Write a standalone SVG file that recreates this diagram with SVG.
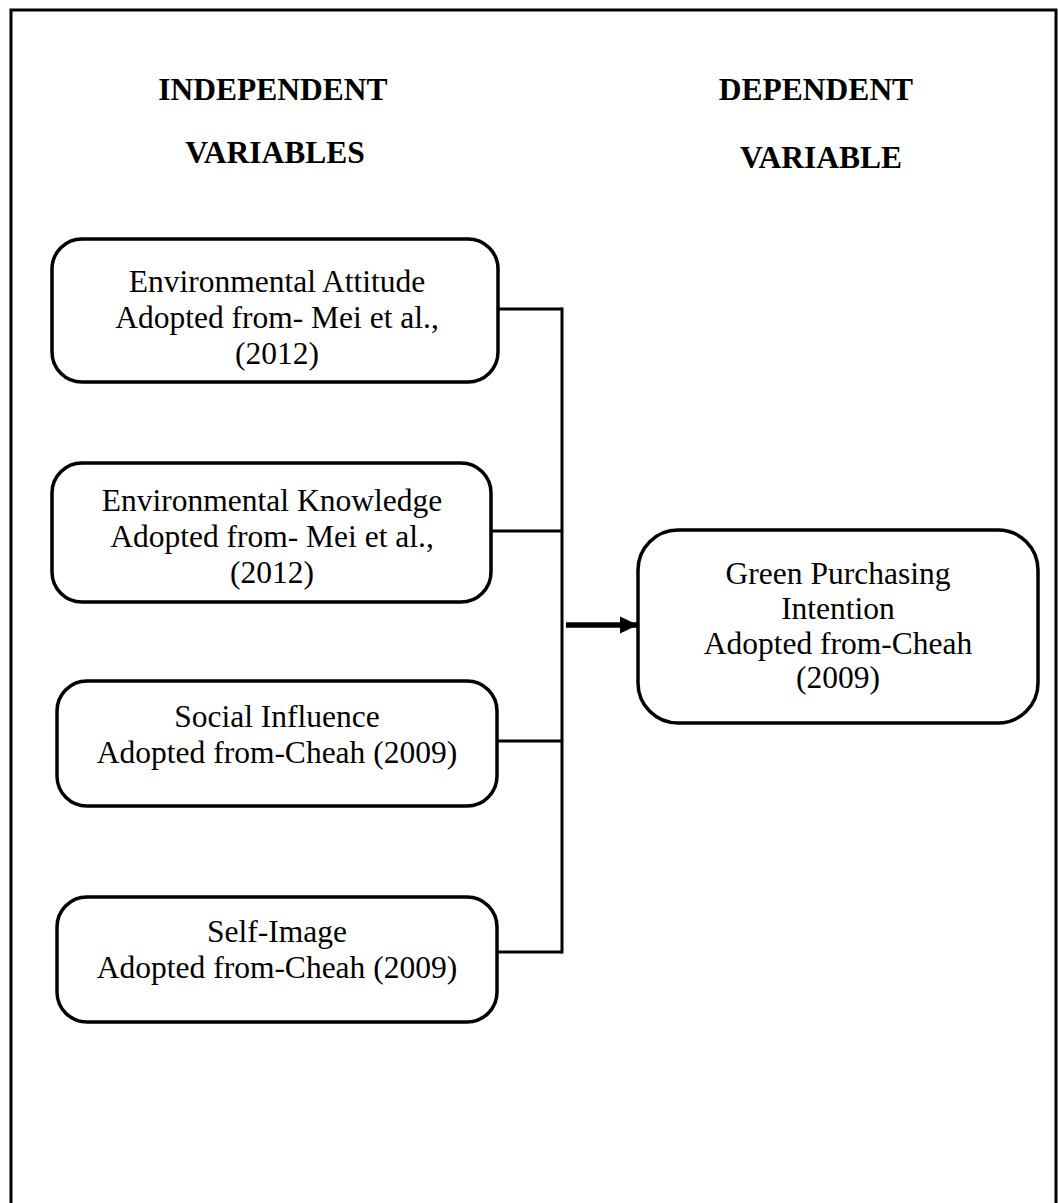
<svg xmlns="http://www.w3.org/2000/svg" width="1058" height="1203" viewBox="0 0 1058 1203">
<style>
.hdr{font-family:"Liberation Serif",serif;font-weight:bold;font-size:31.5px;text-anchor:middle;fill:#000}
.t{font-family:"Liberation Serif",serif;font-size:31.5px;text-anchor:middle;fill:#000}
.box{fill:#fff;stroke:#000;stroke-width:3.5}
.ln{stroke:#000;stroke-width:3;fill:none}
</style>
<defs>
<marker id="ah" markerWidth="18" markerHeight="18" refX="18" refY="9" orient="auto" markerUnits="userSpaceOnUse">
<path d="M0,0.5 L18,9 L0,17.5 Z" fill="#000"/>
</marker>
</defs>
<rect x="11" y="10" width="1045" height="1220" fill="#fff" stroke="#000" stroke-width="3"/>
<g id="headers">
<text class="hdr" x="273" y="100">INDEPENDENT</text>
<text class="hdr" x="275" y="163">VARIABLES</text>
<text class="hdr" x="816" y="100">DEPENDENT</text>
<text class="hdr" x="821" y="168">VARIABLE</text>
</g>
<g id="connectors">
<line class="ln" x1="498" y1="309" x2="562" y2="309"/>
<line class="ln" x1="491" y1="531" x2="562" y2="531"/>
<line class="ln" x1="497" y1="741" x2="562" y2="741"/>
<line class="ln" x1="497" y1="952" x2="562" y2="952"/>
<line class="ln" x1="562" y1="307.5" x2="562" y2="953.5"/>
<line x1="566" y1="625" x2="638" y2="625" stroke="#000" stroke-width="5.5" marker-end="url(#ah)"/>
</g>
<g id="n1">
<rect class="box" x="52" y="239" width="446" height="143" rx="30"/>
<text class="t" x="277" y="292">Environmental Attitude</text>
<text class="t" x="277" y="328">Adopted from- Mei et al.,</text>
<text class="t" x="277" y="364">(2012)</text>
</g>
<g id="n2">
<rect class="box" x="52" y="463" width="439" height="139" rx="30"/>
<text class="t" x="272" y="511">Environmental Knowledge</text>
<text class="t" x="272" y="547">Adopted from- Mei et al.,</text>
<text class="t" x="272" y="583">(2012)</text>
</g>
<g id="n3">
<rect class="box" x="57" y="681" width="440" height="125" rx="30"/>
<text class="t" x="277" y="727">Social Influence</text>
<text class="t" x="277" y="763">Adopted from-Cheah (2009)</text>
</g>
<g id="n4">
<rect class="box" x="57" y="897" width="440" height="125" rx="30"/>
<text class="t" x="277" y="942">Self-Image</text>
<text class="t" x="277" y="978">Adopted from-Cheah (2009)</text>
</g>
<g id="n5">
<rect class="box" x="638" y="530" width="400" height="193" rx="40"/>
<text class="t" x="838" y="584">Green Purchasing</text>
<text class="t" x="838" y="619">Intention</text>
<text class="t" x="838" y="654">Adopted from-Cheah</text>
<text class="t" x="838" y="688">(2009)</text>
</g>
</svg>
